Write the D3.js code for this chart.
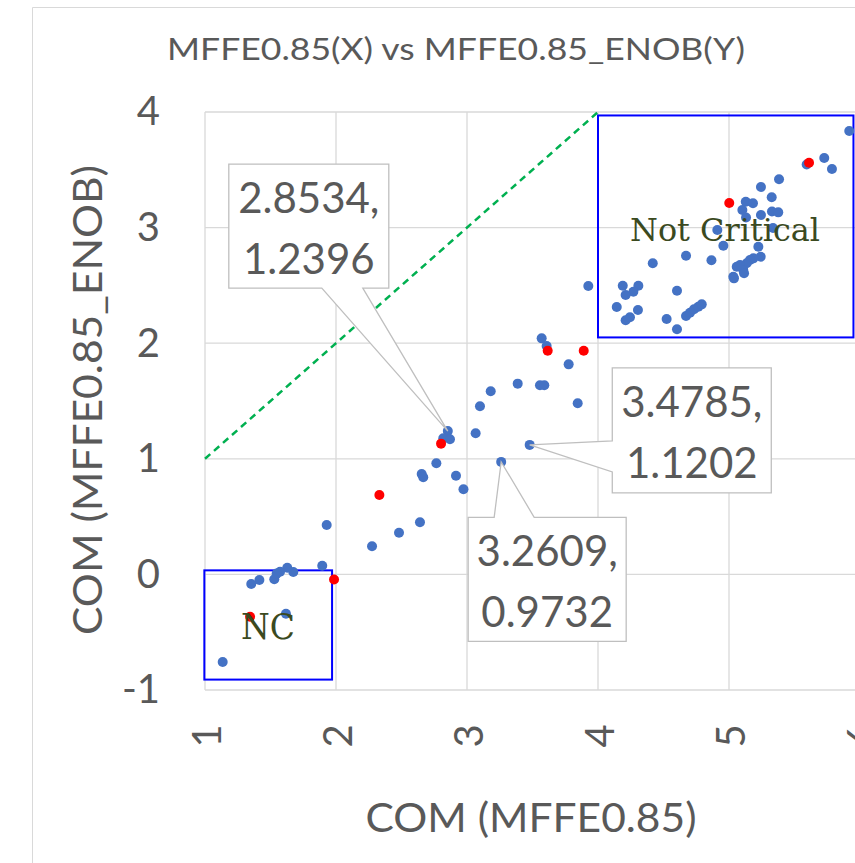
<!DOCTYPE html>
<html>
<head>
<meta charset="utf-8">
<script src="https://cdn.jsdelivr.net/npm/d3@7"></script>
<style>
  html, body { margin: 0; padding: 0; background: #fff; }
  svg { display: block; }
</style>
</head>
<body>
<svg id="chart" width="855" height="863"></svg>
<script>
// Axis ticks
const xTicks = [1, 2, 3, 4, 5, 6];
const yTicks = [-1, 0, 1, 2, 3, 4];

// Ordinary measurements (blue)
const blueX = [
  5.918, 5.593, 5.727, 5.786, 5.382, 5.244, 5.326, 5.128, 5.183, 5.102,
  5.130, 5.244, 5.328, 5.376, 5.336, 4.911, 4.957, 5.224, 5.242, 5.186,
  5.160, 5.135, 5.084, 5.109, 5.059, 5.033, 5.038, 5.115, 4.866, 4.672,
  4.418, 3.926, 4.189, 4.308, 4.270, 4.211, 4.603, 4.143, 4.305, 4.244,
  4.211, 4.524, 4.603, 4.672, 4.702, 4.733, 4.766, 4.792, 3.570, 3.608,
  3.776, 3.387, 3.557, 3.590, 3.181, 3.099, 3.845, 2.8534, 2.819, 2.870,
  3.066, 3.4785, 3.2609, 2.766, 2.654, 2.666, 2.916, 2.973, 1.929, 2.641,
  2.481, 2.275, 1.895, 1.674, 1.628, 1.573, 1.529, 1.415, 1.353, 1.618,
  1.135, 1.547
];
const blueY = [
  3.836, 3.546, 3.602, 3.507, 3.418, 3.351, 3.262, 3.224, 3.210, 3.152,
  3.087, 3.109, 3.139, 3.132, 2.997, 2.979, 2.843, 2.835, 2.748, 2.734,
  2.720, 2.691, 2.676, 2.633, 2.662, 2.575, 2.561, 2.605, 2.718, 2.757,
  2.691, 2.495, 2.497, 2.497, 2.445, 2.417, 2.454, 2.313, 2.287, 2.224,
  2.198, 2.209, 2.120, 2.235, 2.264, 2.293, 2.316, 2.336, 2.042, 1.976,
  1.817, 1.650, 1.636, 1.636, 1.584, 1.454, 1.480, 1.2396, 1.177, 1.169,
  1.221, 1.1202, 0.9732, 0.961, 0.869, 0.840, 0.854, 0.737, 0.427, 0.451,
  0.361, 0.243, 0.075, 0.021, 0.058, 0.023, -0.042, -0.048, -0.083, -0.340,
  -0.758, 0.007
];

// Highlighted measurements (red)
const redX = [5.611, 5.002, 3.616, 3.891, 2.802, 2.331, 1.985, 1.344];
const redY = [3.561, 3.213, 1.935, 1.935, 1.131, 0.687, -0.044, -0.366];

// Points that carry a value callout
const calloutX = [2.8534, 3.4785, 3.2609];
const calloutY = [1.2396, 1.1202, 0.9732];

// Region boxes: [xMin, xMax, yMin, yMax] and their labels
const zoneNames = ["Not Critical", "NC"];
const zoneBounds = [[4.0, 5.95, 2.05, 3.97], [0.995, 1.97, -0.91, 0.035]];

// Reference line y = x
const refLineX = [1, 4];

const svg = d3.select("#chart");
const FONT = "Lato, 'Open Sans', sans-serif";
const TXT = "#595959";

const x = d3.scaleLinear().domain([1, 6]).range([205, 860]);
const y = d3.scaleLinear().domain([-1, 4]).range([690, 112]);

// chart frame
svg.append("path")
  .attr("d", "M32.5,863 V7.5 H855")
  .attr("fill", "none").attr("stroke", "#d9d9d9").attr("stroke-width", 1);

// title
svg.append("text")
  .attr("x", 456).attr("y", 60)
  .attr("text-anchor", "middle")
  .attr("font-family", FONT).attr("font-size", 31)
  .attr("fill", TXT)
  .attr("textLength", 578).attr("lengthAdjust", "spacingAndGlyphs")
  .text("MFFE0.85(X) vs MFFE0.85_ENOB(Y)");

// gridlines
const grid = svg.append("g").attr("stroke", "#d9d9d9").attr("stroke-width", 1.3);
grid.selectAll("line.v").data(xTicks).join("line")
  .attr("x1", d => x(d)).attr("x2", d => x(d))
  .attr("y1", y(4)).attr("y2", y(-1));
grid.selectAll("line.h").data(yTicks).join("line")
  .attr("x1", x(1)).attr("x2", x(6))
  .attr("y1", d => y(d)).attr("y2", d => y(d));

// y axis labels
const yAxis = d3.axisLeft(y).tickValues(yTicks).tickSize(0).tickPadding(45).tickFormat(d => String(d));
svg.append("g").attr("transform", `translate(${x(1)},0)`).call(yAxis)
  .call(g => g.select(".domain").remove())
  .call(g => g.selectAll("text")
    .attr("font-family", FONT).attr("font-size", 40).attr("fill", TXT));

// x axis labels, rotated to read bottom-to-top
const xAxis = d3.axisBottom(x).tickValues(xTicks).tickSize(0).tickFormat(d => String(d));
svg.append("g").attr("transform", `translate(0,${y(-1)})`).call(xAxis)
  .call(g => g.select(".domain").remove())
  .call(g => g.selectAll("text")
    .attr("font-family", FONT).attr("font-size", 40).attr("fill", TXT)
    .attr("y", 0).attr("dy", null)
    .attr("text-anchor", "middle")
    .attr("dominant-baseline", "central")
    .attr("transform", "translate(0,46) rotate(-90)"));

// axis titles
svg.append("text")
  .attr("x", 531).attr("y", 832)
  .attr("text-anchor", "middle")
  .attr("font-family", FONT).attr("font-size", 40).attr("fill", TXT)
  .attr("textLength", 331).attr("lengthAdjust", "spacingAndGlyphs")
  .text("COM (MFFE0.85)");
svg.append("text")
  .attr("transform", "translate(102,400) rotate(-90)")
  .attr("text-anchor", "middle")
  .attr("font-family", FONT).attr("font-size", 40).attr("fill", TXT)
  .attr("textLength", 470).attr("lengthAdjust", "spacingAndGlyphs")
  .text("COM (MFFE0.85_ENOB)");

// region boxes
svg.append("g").selectAll("rect").data(zoneBounds).join("rect")
  .attr("x", d => x(d[0])).attr("width", d => x(d[1]) - x(d[0]))
  .attr("y", d => y(d[3])).attr("height", d => y(d[2]) - y(d[3]))
  .attr("fill", "none").attr("stroke", "#0000ff").attr("stroke-width", 2);

// y = x reference line
svg.append("line")
  .attr("x1", x(refLineX[0])).attr("y1", y(refLineX[0]))
  .attr("x2", x(refLineX[1])).attr("y2", y(refLineX[1]))
  .attr("stroke", "#00b050").attr("stroke-width", 2.5)
  .attr("stroke-dasharray", "7,5");

// points
svg.append("g").selectAll("circle").data(blueX.map((v, i) => [v, blueY[i]])).join("circle")
  .attr("cx", d => x(d[0])).attr("cy", d => y(d[1])).attr("r", 5)
  .attr("fill", "#4472c4");
svg.append("g").selectAll("circle").data(redX.map((v, i) => [v, redY[i]])).join("circle")
  .attr("cx", d => x(d[0])).attr("cy", d => y(d[1])).attr("r", 5)
  .attr("fill", "#ff0000");

// region labels
const zoneLabelPos = [[725, 241], [268, 639]];
svg.append("g").selectAll("text").data(zoneNames).join("text")
  .attr("x", (d, i) => zoneLabelPos[i][0]).attr("y", (d, i) => zoneLabelPos[i][1])
  .attr("text-anchor", "middle")
  .attr("font-family", "'DejaVu Serif', 'Liberation Serif', serif")
  .attr("font-size", (d, i) => i === 0 ? 31 : 35)
  .attr("textLength", (d, i) => i === 0 ? 190 : 54)
  .attr("lengthAdjust", "spacingAndGlyphs")
  .attr("fill", "#3b4a1f")
  .text(d => d);

// value callouts: box offset from point, size, and the side the pointer leaves from
const calloutLayout = [
  { dx: -219, dy: -267, w: 160, h: 124, side: "bottom", a: 93, b: 134 },
  { dx: 82.6, dy: -77, w: 159, h: 125, side: "left", a: 73, b: 104 },
  { dx: -33, dy: 55.4, w: 158, h: 124, side: "top", a: 26, b: 66 }
];
const cg = svg.append("g");
calloutX.forEach((cx, i) => {
  const px = x(cx), py = y(calloutY[i]);
  const L = calloutLayout[i];
  const l = px + L.dx, t = py + L.dy, r = l + L.w, b = t + L.h;
  let d;
  if (L.side === "bottom") {
    d = `M${l},${t} H${r} V${b} H${l + L.b} L${px},${py} L${l + L.a},${b} H${l} Z`;
  } else if (L.side === "left") {
    d = `M${l},${t} H${r} V${b} H${l} V${t + L.b} L${px},${py} L${l},${t + L.a} Z`;
  } else {
    d = `M${l},${t} H${l + L.a} L${px},${py} L${l + L.b},${t} H${r} V${b} H${l} Z`;
  }
  cg.append("path").attr("d", d)
    .attr("fill", "#fff").attr("stroke", "#bfbfbf").attr("stroke-width", 1.3);
  const tx = (l + r) / 2;
  cg.append("text").attr("x", tx).attr("y", t + 49)
    .attr("text-anchor", "middle").attr("font-family", FONT).attr("font-size", 42)
    .attr("fill", TXT).text(cx.toFixed(4) + ",");
  cg.append("text").attr("x", tx).attr("y", t + 110)
    .attr("text-anchor", "middle").attr("font-family", FONT).attr("font-size", 42)
    .attr("fill", TXT).text(calloutY[i].toFixed(4));
});
</script>
</body>
</html>
